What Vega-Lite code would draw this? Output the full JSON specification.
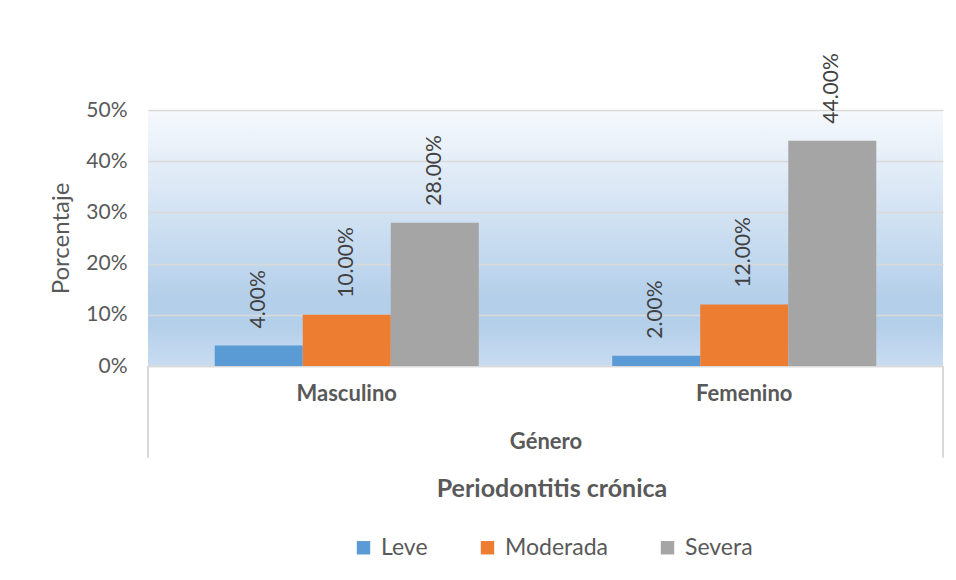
{
  "$schema": "https://vega.github.io/schema/vega-lite/v6.json",
  "width": 795,
  "height": 256,
  "autosize": "none",
  "padding": {"left": 148, "top": 110, "right": 13, "bottom": 214},
  "background": "white",
  "config": {
    "font": "Lato",
    "view": {
      "stroke": null,
      "fill": {
        "gradient": "linear", "x1": 0, "y1": 0, "x2": 0, "y2": 1,
        "stops": [
          {"offset": 0, "color": "#f6f9fd"},
          {"offset": 0.74, "color": "#b4cfea"},
          {"offset": 0.84, "color": "#b4cfea"},
          {"offset": 1, "color": "#c8dcf1"}
        ]
      }
    }
  },
  "data": {
    "values": [
      {"Genero": "Masculino", "Nivel": "Leve", "Porcentaje": 0.04},
      {"Genero": "Masculino", "Nivel": "Moderada", "Porcentaje": 0.10},
      {"Genero": "Masculino", "Nivel": "Severa", "Porcentaje": 0.28},
      {"Genero": "Femenino", "Nivel": "Leve", "Porcentaje": 0.02},
      {"Genero": "Femenino", "Nivel": "Moderada", "Porcentaje": 0.12},
      {"Genero": "Femenino", "Nivel": "Severa", "Porcentaje": 0.44}
    ]
  },
  "layer": [
    {
      "mark": {"type": "bar"},
      "encoding": {
        "x": {
          "field": "Genero", "type": "nominal", "sort": ["Masculino", "Femenino"],
          "scale": {"paddingInner": 0, "paddingOuter": 0},
          "axis": {
            "title": "Género", "labelAngle": 0, "labelFontSize": 22, "labelFontWeight": "bold",
            "labelColor": "#595959", "labelPadding": 17, "ticks": false,
            "domainColor": "#d9d9d9", "domainWidth": 1.5,
            "titleFontSize": 22, "titleFontWeight": "bold", "titleColor": "#595959", "titlePadding": 27
          }
        },
        "xOffset": {
          "field": "Nivel", "type": "nominal", "sort": ["Leve", "Moderada", "Severa"],
          "scale": {"paddingInner": 0, "paddingOuter": 0.758}
        },
        "y": {
          "field": "Porcentaje", "type": "quantitative",
          "scale": {"domain": [0, 0.5], "nice": false},
          "axis": {
            "values": [0, 0.1, 0.2, 0.3, 0.4, 0.5], "format": "%", "title": "Porcentaje",
            "grid": true, "gridColor": "#d9d9d9", "gridWidth": 1.5, "domain": false, "ticks": false,
            "labelFontSize": 21, "labelColor": "#595959", "labelPadding": 21,
            "titleFontSize": 24, "titleFontWeight": "normal", "titleColor": "#595959", "titlePadding": 12
          }
        },
        "fill": {
          "field": "Nivel", "type": "nominal", "sort": ["Leve", "Moderada", "Severa"],
          "scale": {"domain": ["Leve", "Moderada", "Severa"], "range": ["#5b9bd5", "#ed7d31", "#a5a5a5"]},
          "legend": {
            "title": "Periodontitis crónica", "orient": "none", "direction": "horizontal",
            "legendX": 204, "legendY": 367, "padding": 0,
            "titleOrient": "top", "titleAnchor": "middle", "titleFontSize": 25, "titleFontWeight": "bold",
            "titleColor": "#595959", "titlePadding": 34, "titleLimit": 600,
            "symbolType": "square", "symbolSize": 180, "symbolStrokeWidth": 0,
            "labelFontSize": 23, "labelColor": "#595959", "labelOffset": 6, "columnPadding": 48, "labelLimit": 300
          }
        }
      }
    },
    {
      "mark": {"type": "text", "angle": 270, "align": "left", "baseline": "middle", "dx": 17, "fontSize": 21, "color": "#404040"},
      "encoding": {
        "x": {"field": "Genero", "type": "nominal", "sort": ["Masculino", "Femenino"]},
        "xOffset": {"field": "Nivel", "type": "nominal", "sort": ["Leve", "Moderada", "Severa"]},
        "y": {"field": "Porcentaje", "type": "quantitative"},
        "text": {"field": "Porcentaje", "type": "quantitative", "format": ".2%"}
      }
    },
    {
      "mark": {"type": "rule", "color": "#d9d9d9", "strokeWidth": 1.5},
      "encoding": {
        "x": {"datum": "Masculino", "bandPosition": 0},
        "y": {"datum": 0},
        "y2": {"datum": -0.178}
      }
    },
    {
      "mark": {"type": "rule", "color": "#d9d9d9", "strokeWidth": 1.5},
      "encoding": {
        "x": {"datum": "Femenino", "bandPosition": 1},
        "y": {"datum": 0},
        "y2": {"datum": -0.178}
      }
    }
  ]
}
